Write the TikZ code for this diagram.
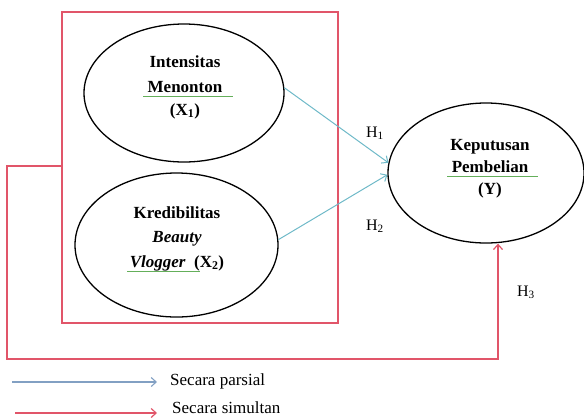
\documentclass[tikz,border=0pt]{standalone}
\usepackage{fontspec}
\setmainfont{Liberation Serif}
\usetikzlibrary{shapes.geometric,arrows.meta}
\definecolor{boxred}{RGB}{225,85,105}
\definecolor{partialc}{RGB}{110,185,200}
\definecolor{legblue}{RGB}{130,160,195}
\definecolor{ulgreen}{RGB}{100,175,90}
\begin{document}
\begin{tikzpicture}[x=1bp,y=-1bp,
  var/.style={draw=black,line width=1.3bp,ellipse,inner sep=0pt},
  lbl/.style={inner sep=0pt,anchor=base,font=\fontsize{17bp}{20bp}\selectfont},
  hlbl/.style={inner sep=0pt,anchor=base,font=\fontsize{16bp}{19bp}\selectfont},
  leg/.style={inner sep=0pt,anchor=base west,font=\fontsize{17bp}{20bp}\selectfont},
  tip/.style={-{Straight Barb[length=5bp,width=9bp]}},
  partial/.style={tip,draw=partialc,line width=1bp},
  simul/.style={tip,draw=boxred,line width=1.2bp},
  uline/.style={draw=ulgreen,line width=1bp}]
\useasboundingbox (0,0) rectangle (584,417);
% box
\node[draw=boxred,line width=1.2bp,minimum width=276bp,minimum height=311bp,inner sep=0pt] (box) at (200,167.5) {};
% variables
\node[var,minimum width=200bp,minimum height=138bp] (x1) at (184,93) {};
\node[var,minimum width=203bp,minimum height=144bp] (x2) at (176.5,245) {};
\node[var,minimum width=196bp,minimum height=140bp] (y) at (486,173) {};
% texts X1
\node[lbl] (x1a) at (185,67) {\bfseries Intensitas};
\node[lbl] (x1b) at (185,92) {\bfseries Menonton};
\node[lbl] (x1c) at (185,115) {\bfseries (X\textsubscript{1})};
\coordinate (u1a) at (143,96);
\coordinate (u1b) at (233,96);
\draw[uline] (u1a) -- (u1b);
% texts X2
\node[lbl] (x2a) at (177,218) {\bfseries Kredibilitas};
\node[lbl] (x2b) at (177,242) {\bfseries\itshape Beauty};
\node[lbl] (x2c) at (177,267) {\bfseries\itshape Vlogger\ \ \upshape(X\textsubscript{2})};
\coordinate (u2a) at (127,271);
\coordinate (u2b) at (200,271);
\draw[uline] (u2a) -- (u2b);
% texts Y
\node[lbl] (ya) at (490,150) {\bfseries Keputusan};
\node[lbl] (yb) at (490,172) {\bfseries Pembelian};
\node[lbl] (yc) at (490,194) {\bfseries (Y)};
\coordinate (u3a) at (447,176);
\coordinate (u3b) at (538,176);
\draw[uline] (u3a) -- (u3b);
% partial arrows
\draw[partial] (x1.3) -- (y.174);
\draw[partial] (x2.3) -- (y.181);
\node[hlbl] (h1) at (375,137) {H\textsubscript{1}};
\node[hlbl] (h2) at (375,230) {H\textsubscript{2}};
\node[hlbl] (h3) at (526,296) {H\textsubscript{3}};
% simultaneous arrow
\coordinate (c0) at (0,166);
\coordinate (c1) at (7,359);
\coordinate (c2) at (498,359);
\draw[simul] (box.west |- c0) -| (c1) -- (c2) -- (c2 |- y.south);
% legend
\coordinate (l1a) at (12,382);
\coordinate (l1b) at (157,382);
\coordinate (l2a) at (15,413);
\coordinate (l2b) at (157,413);
\draw[tip,draw=legblue,line width=1.1bp] (l1a) -- (l1b);
\draw[simul] (l2a) -- (l2b);
\node[leg] (lg1) at (170,385) {Secara parsial};
\node[leg] (lg2) at (172,413) {Secara simultan};
\end{tikzpicture}
\end{document}
